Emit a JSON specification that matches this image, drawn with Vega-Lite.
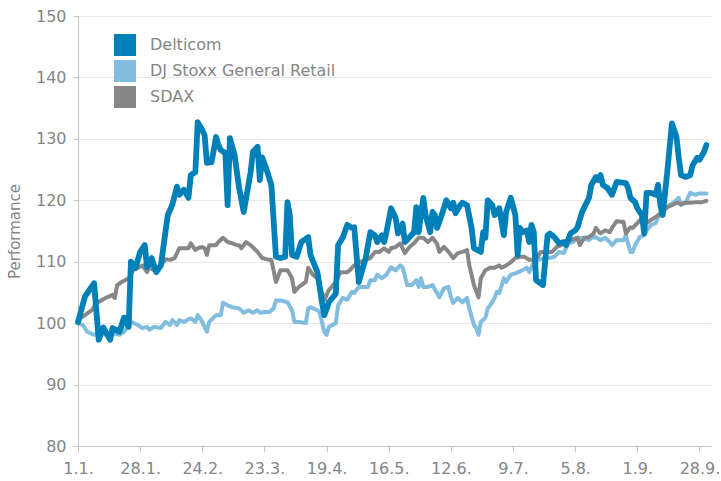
{
  "$schema": "https://vega.github.io/schema/vega-lite/v6.json",
  "width": 633,
  "height": 430,
  "autosize": {"type": "none"},
  "padding": {"left": 78, "top": 16, "right": 10, "bottom": 35},
  "background": "white",
  "config": {
    "view": {"stroke": null},
    "font": "DejaVu Sans",
    "axis": {
      "labelFont": "DejaVu Sans",
      "labelFontSize": 16,
      "labelColor": "#858585",
      "domainColor": "#c4c4c4",
      "tickColor": "#c4c4c4",
      "gridColor": "#e8e8e8"
    }
  },
  "datasets": {
    "delticom": [
      {"day":0,"v":100.2},{"day":3,"v":104.3},{"day":7,"v":106.5},{"day":9,"v":97.3},{"day":11,"v":99.3},{"day":12,"v":98.6},{"day":14,"v":97.3},{"day":15,"v":99.2},{"day":18,"v":98.6},{"day":20,"v":100.9},{"day":22,"v":99.4},{"day":23,"v":110},{"day":25,"v":109},{"day":27,"v":111.6},{"day":29,"v":112.7},{"day":30,"v":109.1},{"day":32,"v":110.6},{"day":34,"v":108.3},{"day":36,"v":109.4},{"day":39,"v":117.6},{"day":41,"v":119.3},{"day":43,"v":122.2},{"day":44,"v":120.9},{"day":46,"v":121.7},{"day":48,"v":120.4},{"day":49,"v":124.1},{"day":51,"v":124.6},{"day":52,"v":132.7},{"day":54,"v":131.4},{"day":55,"v":130.6},{"day":56,"v":126.1},{"day":58,"v":126.2},{"day":60,"v":130.3},{"day":61,"v":129},{"day":62,"v":128.2},{"day":64,"v":127.7},{"day":65,"v":119.2},{"day":66,"v":130.1},{"day":68,"v":127.4},{"day":70,"v":122},{"day":72,"v":118.1},{"day":75,"v":124.6},{"day":76,"v":127.9},{"day":78,"v":128.7},{"day":79,"v":123.3},{"day":80,"v":127},{"day":82,"v":124.9},{"day":84,"v":122.5},{"day":86,"v":110.8},{"day":88,"v":110.6},{"day":90,"v":110.8},{"day":91,"v":119.7},{"day":92,"v":117.6},{"day":93,"v":111.1},{"day":95,"v":110.8},{"day":97,"v":113.2},{"day":100,"v":114},{"day":101,"v":111.1},{"day":104,"v":108.3},{"day":106,"v":103.4},{"day":107,"v":101.3},{"day":109,"v":103.4},{"day":112,"v":104.8},{"day":113,"v":112.7},{"day":115,"v":113.9},{"day":117,"v":116},{"day":119,"v":115.5},{"day":120,"v":115.6},{"day":122,"v":106.7},{"day":125,"v":110.6},{"day":127,"v":114.8},{"day":129,"v":114.3},{"day":130,"v":113.2},{"day":132,"v":114.3},{"day":133,"v":113.2},{"day":134,"v":114.8},{"day":136,"v":118.7},{"day":138,"v":117.1},{"day":139,"v":114.6},{"day":141,"v":116.2},{"day":142,"v":113.2},{"day":144,"v":114},{"day":146,"v":114.8},{"day":147,"v":118.9},{"day":148,"v":114.8},{"day":150,"v":120.4},{"day":151,"v":117.6},{"day":153,"v":114.8},{"day":154,"v":118.1},{"day":155,"v":117.6},{"day":156,"v":115.5},{"day":158,"v":117.6},{"day":160,"v":120},{"day":162,"v":118.7},{"day":163,"v":119.6},{"day":164,"v":117.9},{"day":166,"v":119.2},{"day":167,"v":119.6},{"day":169,"v":119.2},{"day":171,"v":115.5},{"day":172,"v":112.2},{"day":175,"v":111.6},{"day":176,"v":114.8},{"day":177,"v":113.9},{"day":178,"v":120},{"day":180,"v":119.2},{"day":181,"v":117.6},{"day":183,"v":118.7},{"day":185,"v":114.3},{"day":186,"v":118.1},{"day":188,"v":120.4},{"day":190,"v":117.6},{"day":191,"v":111.1},{"day":192,"v":115.5},{"day":193,"v":114.8},{"day":195,"v":115.1},{"day":196,"v":113.2},{"day":197,"v":116},{"day":198,"v":114.8},{"day":199,"v":107},{"day":202,"v":106.2},{"day":204,"v":114.3},{"day":205,"v":114.6},{"day":207,"v":114},{"day":209,"v":113},{"day":211,"v":113.2},{"day":212,"v":112.7},{"day":214,"v":114.6},{"day":216,"v":115.1},{"day":217,"v":115.6},{"day":219,"v":118.1},{"day":222,"v":120.4},{"day":223,"v":122.5},{"day":225,"v":123.8},{"day":226,"v":123.3},{"day":227,"v":124.1},{"day":228,"v":122.5},{"day":230,"v":122},{"day":232,"v":120.9},{"day":234,"v":123},{"day":238,"v":122.8},{"day":239,"v":122},{"day":240,"v":120.4},{"day":242,"v":119.7},{"day":243,"v":118.7},{"day":245,"v":117.6},{"day":246,"v":114.6},{"day":247,"v":121.2},{"day":249,"v":121.2},{"day":251,"v":120.9},{"day":252,"v":122.5},{"day":253,"v":119.2},{"day":254,"v":117.6},{"day":256,"v":124.6},{"day":258,"v":132.5},{"day":260,"v":130.3},{"day":261,"v":126.9},{"day":262,"v":124.1},{"day":264,"v":123.8},{"day":266,"v":124.1},{"day":267,"v":125.7},{"day":269,"v":126.9},{"day":270,"v":126.6},{"day":272,"v":127.9},{"day":273,"v":129}
    ],
    "stoxx": [
      {"day":0,"v":100},{"day":2,"v":99.7},{"day":4,"v":98.6},{"day":7,"v":98.1},{"day":10,"v":98.6},{"day":12,"v":98.1},{"day":15,"v":98.4},{"day":18,"v":98.1},{"day":20,"v":98.6},{"day":23,"v":100.2},{"day":26,"v":99.7},{"day":28,"v":99.2},{"day":30,"v":99.4},{"day":31,"v":98.9},{"day":33,"v":99.4},{"day":36,"v":99.2},{"day":38,"v":100.2},{"day":40,"v":99.7},{"day":41,"v":100.5},{"day":43,"v":99.7},{"day":44,"v":100.5},{"day":46,"v":100.2},{"day":49,"v":100.8},{"day":51,"v":100.2},{"day":52,"v":101.3},{"day":54,"v":100.2},{"day":56,"v":98.6},{"day":57,"v":100.2},{"day":60,"v":101.3},{"day":62,"v":101.3},{"day":63,"v":103.3},{"day":65,"v":102.9},{"day":67,"v":102.6},{"day":70,"v":102.4},{"day":72,"v":101.7},{"day":74,"v":102.1},{"day":76,"v":101.7},{"day":78,"v":102.1},{"day":79,"v":101.7},{"day":81,"v":101.8},{"day":83,"v":101.8},{"day":85,"v":102.4},{"day":86,"v":103.7},{"day":88,"v":103.7},{"day":91,"v":103.4},{"day":93,"v":102.1},{"day":94,"v":100.2},{"day":96,"v":100.2},{"day":99,"v":100},{"day":100,"v":102.4},{"day":101,"v":102.6},{"day":104,"v":102.1},{"day":105,"v":101.7},{"day":107,"v":98.6},{"day":108,"v":98.1},{"day":109,"v":99.4},{"day":112,"v":100},{"day":113,"v":102.9},{"day":115,"v":104.1},{"day":117,"v":103.8},{"day":119,"v":105.1},{"day":120,"v":104.9},{"day":122,"v":105.9},{"day":126,"v":105.9},{"day":127,"v":107},{"day":129,"v":107},{"day":130,"v":107.9},{"day":132,"v":107.3},{"day":134,"v":107.9},{"day":136,"v":109.1},{"day":138,"v":108.6},{"day":140,"v":109.4},{"day":141,"v":109.1},{"day":143,"v":106.2},{"day":145,"v":106.2},{"day":147,"v":107},{"day":148,"v":105.9},{"day":149,"v":107.3},{"day":150,"v":105.9},{"day":152,"v":105.9},{"day":154,"v":106.2},{"day":155,"v":105.5},{"day":157,"v":104.2},{"day":159,"v":105.7},{"day":161,"v":105.9},{"day":162,"v":104.2},{"day":163,"v":103.3},{"day":165,"v":104.1},{"day":167,"v":103.4},{"day":169,"v":104.1},{"day":170,"v":102.4},{"day":172,"v":99.7},{"day":173,"v":99.2},{"day":174,"v":98.1},{"day":175,"v":100.2},{"day":177,"v":100.9},{"day":178,"v":102.4},{"day":179,"v":102.9},{"day":181,"v":104.1},{"day":182,"v":105.1},{"day":183,"v":104.9},{"day":185,"v":107.3},{"day":186,"v":106.7},{"day":188,"v":107.9},{"day":190,"v":108.1},{"day":193,"v":108.6},{"day":195,"v":109},{"day":196,"v":108.3},{"day":198,"v":109.9},{"day":200,"v":110.3},{"day":203,"v":110.6},{"day":205,"v":110.6},{"day":207,"v":110.8},{"day":209,"v":111.6},{"day":211,"v":111.4},{"day":212,"v":112.2},{"day":213,"v":113},{"day":215,"v":113.2},{"day":217,"v":113.9},{"day":219,"v":113.9},{"day":222,"v":113.5},{"day":223,"v":113.9},{"day":225,"v":114},{"day":227,"v":113.5},{"day":229,"v":113.9},{"day":231,"v":113.2},{"day":232,"v":112.7},{"day":234,"v":113.5},{"day":237,"v":113.5},{"day":238,"v":114.3},{"day":240,"v":111.6},{"day":241,"v":111.6},{"day":242,"v":112.7},{"day":244,"v":114},{"day":246,"v":114.3},{"day":247,"v":115.1},{"day":249,"v":116},{"day":251,"v":116.3},{"day":253,"v":118.1},{"day":255,"v":118.7},{"day":257,"v":119.2},{"day":259,"v":119.7},{"day":261,"v":120.4},{"day":262,"v":119.2},{"day":264,"v":119.7},{"day":266,"v":121.2},{"day":268,"v":120.9},{"day":270,"v":121.1},{"day":273,"v":121.1}
    ],
    "sdax": [
      {"day":0,"v":100},{"day":1,"v":100.8},{"day":3,"v":101.3},{"day":6,"v":102.1},{"day":8,"v":103.3},{"day":10,"v":103.7},{"day":12,"v":104.1},{"day":15,"v":104.6},{"day":16,"v":104.1},{"day":17,"v":106.2},{"day":19,"v":106.7},{"day":22,"v":107.3},{"day":24,"v":108.6},{"day":26,"v":109},{"day":28,"v":109.4},{"day":30,"v":108.3},{"day":31,"v":109.1},{"day":33,"v":108.6},{"day":36,"v":109.4},{"day":38,"v":110.4},{"day":40,"v":110.3},{"day":42,"v":110.6},{"day":44,"v":112.2},{"day":46,"v":112.2},{"day":48,"v":112.2},{"day":49,"v":113},{"day":51,"v":111.9},{"day":52,"v":112.2},{"day":54,"v":112.4},{"day":55,"v":112.2},{"day":56,"v":111.1},{"day":57,"v":112.7},{"day":60,"v":112.7},{"day":61,"v":113.2},{"day":63,"v":113.9},{"day":65,"v":113.2},{"day":67,"v":113},{"day":69,"v":112.7},{"day":70,"v":112.7},{"day":71,"v":112.2},{"day":73,"v":113.2},{"day":75,"v":112.7},{"day":78,"v":111.6},{"day":80,"v":110.6},{"day":83,"v":110.3},{"day":84,"v":110.3},{"day":86,"v":106.7},{"day":88,"v":108.6},{"day":91,"v":108.6},{"day":93,"v":107.3},{"day":94,"v":105.1},{"day":96,"v":105.9},{"day":99,"v":106.7},{"day":100,"v":109},{"day":102,"v":107.9},{"day":104,"v":107.3},{"day":107,"v":103.7},{"day":108,"v":104.6},{"day":109,"v":105.4},{"day":112,"v":106.7},{"day":114,"v":108.3},{"day":115,"v":108.3},{"day":117,"v":108.3},{"day":118,"v":108.6},{"day":120,"v":109.4},{"day":122,"v":109.9},{"day":125,"v":110.3},{"day":127,"v":110.6},{"day":129,"v":111.6},{"day":131,"v":111.6},{"day":133,"v":112.2},{"day":135,"v":111.6},{"day":136,"v":112.2},{"day":138,"v":112.4},{"day":140,"v":113},{"day":142,"v":111.4},{"day":144,"v":112.4},{"day":146,"v":113},{"day":148,"v":113.9},{"day":150,"v":113.9},{"day":152,"v":113.2},{"day":154,"v":113.9},{"day":156,"v":112.9},{"day":157,"v":111.6},{"day":159,"v":112.4},{"day":161,"v":111.6},{"day":163,"v":110.6},{"day":165,"v":111.4},{"day":167,"v":111.6},{"day":169,"v":111.9},{"day":170,"v":109.4},{"day":172,"v":106.2},{"day":174,"v":104.2},{"day":175,"v":107.3},{"day":177,"v":108.6},{"day":179,"v":109},{"day":181,"v":109},{"day":183,"v":109.4},{"day":184,"v":109},{"day":186,"v":109.4},{"day":188,"v":109.9},{"day":190,"v":110.6},{"day":192,"v":110.8},{"day":194,"v":110.8},{"day":196,"v":110.3},{"day":199,"v":110.3},{"day":201,"v":111.6},{"day":204,"v":111.6},{"day":206,"v":111.6},{"day":208,"v":112.4},{"day":210,"v":112.7},{"day":212,"v":113.2},{"day":214,"v":113.5},{"day":217,"v":113.9},{"day":218,"v":112.7},{"day":220,"v":113.9},{"day":222,"v":114},{"day":224,"v":114.6},{"day":225,"v":115.5},{"day":227,"v":114.6},{"day":229,"v":115.1},{"day":231,"v":114.8},{"day":232,"v":115.5},{"day":234,"v":116.6},{"day":236,"v":116.5},{"day":237,"v":116.5},{"day":238,"v":114.6},{"day":240,"v":115.6},{"day":241,"v":115.5},{"day":243,"v":116.3},{"day":245,"v":117.1},{"day":247,"v":116.3},{"day":249,"v":116.8},{"day":251,"v":117.3},{"day":254,"v":118.1},{"day":256,"v":118.9},{"day":258,"v":119.2},{"day":260,"v":119.6},{"day":262,"v":119.4},{"day":264,"v":119.6},{"day":266,"v":119.6},{"day":269,"v":119.7},{"day":271,"v":119.7},{"day":273,"v":119.9}
    ]
  },
  "encoding": {
    "x": {
      "field": "day",
      "type": "quantitative",
      "scale": {"domain": [0, 275], "nice": false, "zero": false},
      "axis": {
        "title": null,
        "grid": false,
        "values": [0, 27, 54, 81, 108, 135, 162, 189, 216, 243, 270],
        "labelExpr": "timeFormat(datetime(2013, 0, 1 + datum.value), '%-d.%-m.')",
        "tickSize": 6,
        "labelPadding": 8,
        "labelFlush": false,
        "labelOverlap": false
      }
    },
    "y": {
      "field": "v",
      "type": "quantitative",
      "scale": {"domain": [80, 150], "nice": false, "zero": false},
      "axis": {
        "title": "Performance",
        "titleFont": "DejaVu Sans",
        "titleFontSize": 15,
        "titleFontWeight": "normal",
        "titleColor": "#858585",
        "titlePadding": 13,
        "values": [80, 90, 100, 110, 120, 130, 140, 150],
        "tickSize": 5,
        "labelPadding": 7,
        "grid": true
      }
    },
    "color": {
      "type": "nominal",
      "scale": {
        "domain": ["Delticom", "DJ Stoxx General Retail", "SDAX"],
        "range": ["#0080b8", "#80bddf", "#878787"]
      },
      "legend": {
        "title": null,
        "orient": "none",
        "legendX": 36,
        "legendY": 18,
        "symbolType": "square",
        "symbolSize": 484,
        "symbolStrokeWidth": 0,
        "labelFont": "DejaVu Sans",
        "labelFontSize": 16,
        "labelColor": "#858585",
        "labelOffset": 14,
        "labelLimit": 400,
        "rowPadding": 4,
        "encode": {
          "symbols": {"update": {"fill": {"scale": "color", "field": "value"}, "strokeWidth": {"value": 0}, "opacity": {"value": 1}}}
        }
      }
    }
  },
  "layer": [
    {
      "data": {"name": "stoxx"},
      "mark": {"type": "line", "strokeWidth": 4, "strokeJoin": "round", "strokeCap": "round"},
      "encoding": {"color": {"datum": "DJ Stoxx General Retail", "type": "nominal"}}
    },
    {
      "data": {"name": "sdax"},
      "mark": {"type": "line", "strokeWidth": 4, "strokeJoin": "round", "strokeCap": "round"},
      "encoding": {"color": {"datum": "SDAX", "type": "nominal"}}
    },
    {
      "data": {"name": "delticom"},
      "mark": {"type": "line", "strokeWidth": 5.8, "strokeJoin": "round", "strokeCap": "round"},
      "encoding": {"color": {"datum": "Delticom", "type": "nominal"}}
    }
  ]
}
